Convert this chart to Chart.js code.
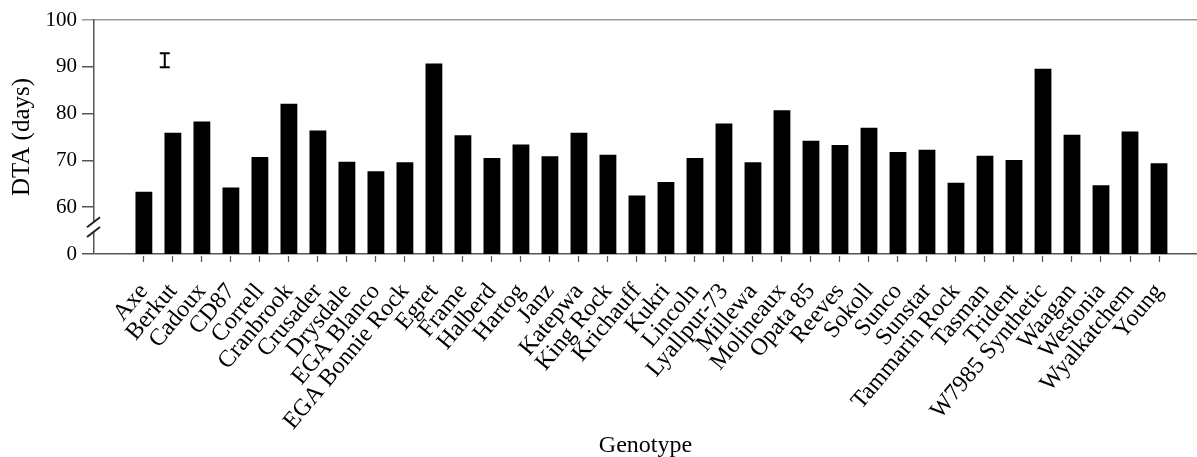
<!DOCTYPE html>
<html>
<head>
<meta charset="utf-8">
<script src="https://cdn.jsdelivr.net/npm/chart.js@4"></script>
<style>
  html, body { margin: 0; padding: 0; background: #fff; }
  #wrap { width: 1197px; height: 457px; }
</style>
</head>
<body>
<div id="wrap"><canvas id="chart"></canvas></div>
<script>
const genotypes = ['Axe', 'Berkut', 'Cadoux', 'CD87', 'Correll', 'Cranbrook', 'Crusader', 'Drysdale',
  'EGA Blanco', 'EGA Bonnie Rock', 'Egret', 'Frame', 'Halberd', 'Hartog', 'Janz', 'Katepwa',
  'King Rock', 'Krichauff', 'Kukri', 'Lincoln', 'Lyallpur-73', 'Millewa', 'Molineaux', 'Opata 85',
  'Reeves', 'Sokoll', 'Sunco', 'Sunstar', 'Tammarin Rock', 'Tasman', 'Trident', 'W7985 Synthetic',
  'Waagan', 'Westonia', 'Wyalkatchem', 'Young'];

const dta = [63.3, 75.9, 78.3, 64.2, 70.7, 82.1, 76.4, 69.7,
  67.7, 69.6, 90.7, 75.4, 70.5, 73.4, 70.9, 75.9,
  71.2, 62.5, 65.4, 70.5, 77.9, 69.6, 80.7, 74.2,
  73.3, 77.0, 71.8, 72.3, 65.2, 71.0, 70.1, 89.6,
  75.5, 64.7, 76.2, 69.4];

// y axis is broken: the bottom tick stands for 0
const yTickValues = [50, 60, 70, 80, 90, 100];
const yTickLabels = ['0', '60', '70', '80', '90', '100'];

// LSD bar shown top left
const lsdRange = [89.9, 92.9];

const serif = 'Liberation Serif';
const axisGrey = '#555';

const extras = {
  id: 'extras',
  afterDraw(chart) {
    const { ctx, scales: { x, y } } = chart;
    ctx.save();
    // axis break
    const ax = y.right;
    const b1 = y.getPixelForValue(56.8);
    const b2 = y.getPixelForValue(54.7);
    ctx.fillStyle = '#fff';
    ctx.fillRect(ax - 3, b1, 6, b2 - b1);
    ctx.strokeStyle = '#222';
    ctx.lineWidth = 2;
    [b1, b2].forEach(by => {
      ctx.beginPath();
      ctx.moveTo(ax - 7, by + 5);
      ctx.lineTo(ax + 6, by - 5);
      ctx.stroke();
    });
    // LSD bar
    const lx = x.getPixelForValue(1.72);
    const lt = y.getPixelForValue(lsdRange[1]);
    const lb = y.getPixelForValue(lsdRange[0]);
    ctx.strokeStyle = '#000';
    ctx.lineWidth = 2;
    ctx.beginPath();
    ctx.moveTo(lx, lt); ctx.lineTo(lx, lb);
    ctx.moveTo(lx - 5, lt); ctx.lineTo(lx + 5, lt);
    ctx.moveTo(lx - 5, lb); ctx.lineTo(lx + 5, lb);
    ctx.stroke();
    ctx.restore();
  }
};

new Chart(document.getElementById('chart'), {
  type: 'bar',
  data: {
    datasets: [{
      label: 'DTA',
      data: dta.map((v, i) => ({ x: i + 1, y: v })),
      backgroundColor: '#000',
      borderWidth: 0,
      barPercentage: 0.58,
      categoryPercentage: 1
    }]
  },
  options: {
    responsive: true,
    maintainAspectRatio: false,
    animation: false,
    layout: { padding: { top: 20, right: 0, left: 0, bottom: 0 } },
    plugins: {
      legend: { display: false },
      tooltip: { enabled: false }
    },
    scales: {
      x: {
        type: 'linear',
        offset: false,
        min: -0.72,
        max: 37.31,
        afterBuildTicks: s => { s.ticks = genotypes.map((g, i) => ({ value: i + 1 })); },
        afterFit: s => { s.height = 203; s.paddingLeft = 0; s.paddingRight = 0; },
        border: { display: false },
        grid: {
          offset: false,
          drawOnChartArea: false,
          tickLength: 8,
          tickColor: axisGrey,
          tickWidth: 1.2,
          tickBorderDash: [6, 2],
          tickBorderDashOffset: 6
        },
        ticks: {
          autoSkip: false,
          minRotation: 50,
          maxRotation: 50,
          padding: 16,
          color: '#000',
          font: { family: serif, size: 24 },
          callback: (v, i) => genotypes[i]
        },
        title: {
          display: true,
          text: 'Genotype',
          color: '#000',
          font: { family: serif, size: 24 },
          padding: { top: 0, bottom: -3 }
        }
      },
      y: {
        min: 50,
        max: 100,
        afterBuildTicks: s => { s.ticks = yTickValues.map(v => ({ value: v })); },
        afterFit: s => { s.width = 94; },
        border: { display: true, color: axisGrey, width: 1.5 },
        grid: {
          tickLength: 12,
          lineWidth: 1.5,
          color: c => c.tick.value === 100 ? '#999' : (c.tick.value === 50 ? axisGrey : 'transparent'),
          tickColor: c => c.tick.value === 100 ? '#999' : axisGrey,
          tickWidth: 1.5
        },
        ticks: {
          padding: 5,
          color: '#000',
          font: { family: serif, size: 21 },
          callback: (v, i) => yTickLabels[i]
        },
        title: {
          display: true,
          text: 'DTA (days)',
          color: '#000',
          font: { family: serif, size: 25 },
          padding: { top: 7, bottom: 0 }
        }
      }
    }
  },
  plugins: [extras]
});
</script>
</body>
</html>
